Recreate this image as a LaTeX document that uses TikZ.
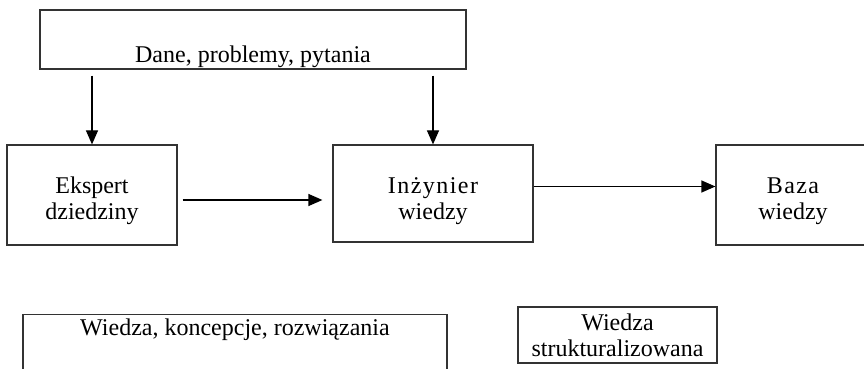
\documentclass[tikz,border=0pt]{standalone}
\usepackage{fontspec}
\setmainfont{Liberation Serif}
\newfontfamily\spacedfont[LetterSpace=6]{Liberation Serif}
\usetikzlibrary{arrows.meta}

\begin{document}
\begin{tikzpicture}[x=0.5pt, y=-0.5pt,
  box/.style={draw=black!80, line width=0.6pt, rectangle, inner sep=0pt,
    align=center, font=\fontsize{12}{13}\selectfont},
  arr/.style={-{Triangle[length=7pt,width=6pt]}, line width=0.6pt, black}
]
\useasboundingbox (0,0) rectangle (864,369);

\node[box, minimum width=213pt, minimum height=29.5pt, text height=23.5pt, text depth=0pt] (dane) at (253,39.5) {Dane, problemy, pytania};

\node[box, minimum width=85pt,  minimum height=50pt,   text height=28pt,   text depth=3pt] (ekspert) at (92,195)    {Ekspert\\dziedziny};
\node[box, minimum width=100pt, minimum height=48.5pt, text height=29.5pt, text depth=3pt] (inz)     at (433,193.5) {{\spacedfont Inżynier}\\wiedzy};
\node[box, minimum width=77pt,  minimum height=50pt,   text height=28pt,   text depth=3pt] (baza)    at (793,195)   {{\spacedfont Baza}\\wiedzy};

\node[box, minimum width=212pt, text height=10.5pt, text depth=30pt, anchor=north] (wiedza) at (235,314) {Wiedza, koncepcje, rozwiązania};
\node[box, minimum width=99.5pt, minimum height=28pt] (struktura) at (617.5,335) {Wiedza\\strukturalizowana};

\draw[arr, shorten <=3pt] (dane.south -| ekspert) -- (ekspert);
\draw[arr, shorten <=3pt] (dane.south -| inz) -- (inz);
\draw[arr, shorten <=2.5pt, shorten >=5pt] ([yshift=-2.5pt]ekspert.east) -- ([yshift=-2.5pt]ekspert.east -| inz.west);
\draw[arr] ([yshift=3.5pt]inz.east) -- ([yshift=3.5pt]inz.east -| baza.west);
\end{tikzpicture}
\end{document}
